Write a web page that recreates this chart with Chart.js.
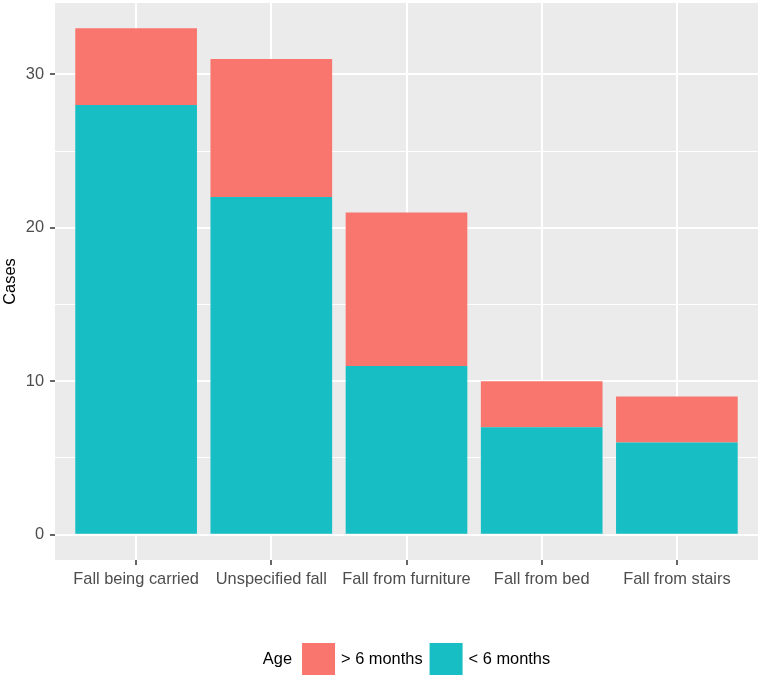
<!DOCTYPE html>
<html>
<head>
<meta charset="utf-8">
<script src="https://cdn.jsdelivr.net/npm/chart.js@4/dist/chart.umd.min.js"></script>
<style>
  html, body { margin: 0; padding: 0; background: #ffffff; }
  #wrap { width: 762px; height: 679px; position: relative; }
</style>
</head>
<body>
<div id="wrap"><canvas id="c" width="762" height="679"></canvas></div>
<script>
const categories = ["Fall being carried", "Unspecified fall", "Fall from furniture", "Fall from bed", "Fall from stairs"];
const under6 = [28, 22, 11, 7, 6];
const over6 = [5, 9, 10, 3, 3];
const yTicks = [0, 5, 10, 15, 20, 25, 30];
const legendTitle = "Age";

const FONT = "'Liberation Sans', Arial, Helvetica, sans-serif";
const FS = 16.4;

const panelBg = {
  id: 'panelBg',
  beforeDraw(chart) {
    const a = chart.chartArea, ctx = chart.ctx;
    ctx.save();
    ctx.fillStyle = '#EBEBEB';
    ctx.fillRect(a.left, a.top, a.right - a.left, a.bottom - a.top);
    ctx.restore();
  }
};

const ggLegend = {
  id: 'ggLegend',
  afterDraw(chart) {
    const ctx = chart.ctx, a = chart.chartArea;
    ctx.save();
    ctx.font = FS + 'px ' + FONT;
    ctx.textBaseline = 'middle';
    const items = chart.data.datasets.slice().reverse();
    const key = 33, gapTitle = 10, gapText = 6, gapItem = 7;
    let total = ctx.measureText(legendTitle).width + gapTitle;
    items.forEach((d, i) => {
      total += key + gapText + ctx.measureText(d.label).width + (i < items.length - 1 ? gapItem : 0);
    });
    let x = (a.left + a.right) / 2 - total / 2;
    const cy = 659;
    ctx.fillStyle = '#000000';
    ctx.textAlign = 'left';
    ctx.fillText(legendTitle, x, cy);
    x += ctx.measureText(legendTitle).width + gapTitle;
    items.forEach((d) => {
      ctx.fillStyle = d.backgroundColor;
      ctx.fillRect(x, cy - 16, key, 32);
      x += key + gapText;
      ctx.fillStyle = '#000000';
      ctx.fillText(d.label, x, cy);
      x += ctx.measureText(d.label).width + gapItem;
    });
    ctx.restore();
  }
};

new Chart(document.getElementById('c'), {
  type: 'bar',
  data: {
    datasets: [
      { label: '< 6 months', data: under6.map((v, i) => ({ x: i + 1, y: v })), backgroundColor: '#17BEC4', borderWidth: 0 },
      { label: '> 6 months', data: over6.map((v, i) => ({ x: i + 1, y: v })), backgroundColor: '#F8766D', borderWidth: 0 }
    ]
  },
  options: {
    responsive: false,
    animation: false,
    devicePixelRatio: 1,
    layout: { padding: { left: 0, right: 4, top: 3, bottom: 89 } },
    datasets: { bar: { categoryPercentage: 1.0, barPercentage: 0.9 } },
    plugins: { legend: { display: false }, tooltip: { enabled: false } },
    scales: {
      x: {
        type: 'linear',
        stacked: true,
        offset: false,
        min: 0.4,
        max: 5.6,
        afterBuildTicks(scale) { scale.ticks = categories.map((c, i) => ({ value: i + 1 })); },
        afterFit(scale) { scale.height = 30; scale.paddingLeft = 0; scale.paddingRight = 0; },
        ticks: {
          autoSkip: false, maxRotation: 0, minRotation: 0,
          padding: 5,
          color: '#4D4D4D',
          font: { family: FONT, size: FS },
          callback: (v) => categories[Math.round(v) - 1]
        },
        grid: { offset: false, color: '#FFFFFF', lineWidth: 2, tickColor: '#333333', tickLength: 5, tickWidth: 1.5 },
        border: { display: false }
      },
      y: {
        stacked: true,
        min: -1.65,
        max: 34.65,
        afterBuildTicks(scale) { scale.ticks = yTicks.map(v => ({ value: v })); },
        afterFit(scale) { scale.width = 55; scale.paddingTop = 0; scale.paddingBottom = 0; },
        ticks: {
          padding: 6,
          color: '#4D4D4D',
          font: { family: FONT, size: FS },
          callback: (v) => (v % 10 === 0 ? String(v) : '')
        },
        grid: {
          color: '#FFFFFF',
          lineWidth: (ctx) => (ctx.tick && ctx.tick.value % 10 === 0 ? 2 : 1),
          tickColor: (ctx) => (ctx.tick && ctx.tick.value % 10 === 0 ? '#333333' : 'rgba(0,0,0,0)'),
          tickLength: 5,
          tickWidth: 1.5
        },
        border: { display: false },
        title: {
          display: true,
          text: 'Cases',
          color: '#000000',
          font: { family: FONT, size: FS },
          padding: { top: 1, bottom: 0 }
        }
      }
    }
  },
  plugins: [panelBg, ggLegend]
});
</script>
</body>
</html>
